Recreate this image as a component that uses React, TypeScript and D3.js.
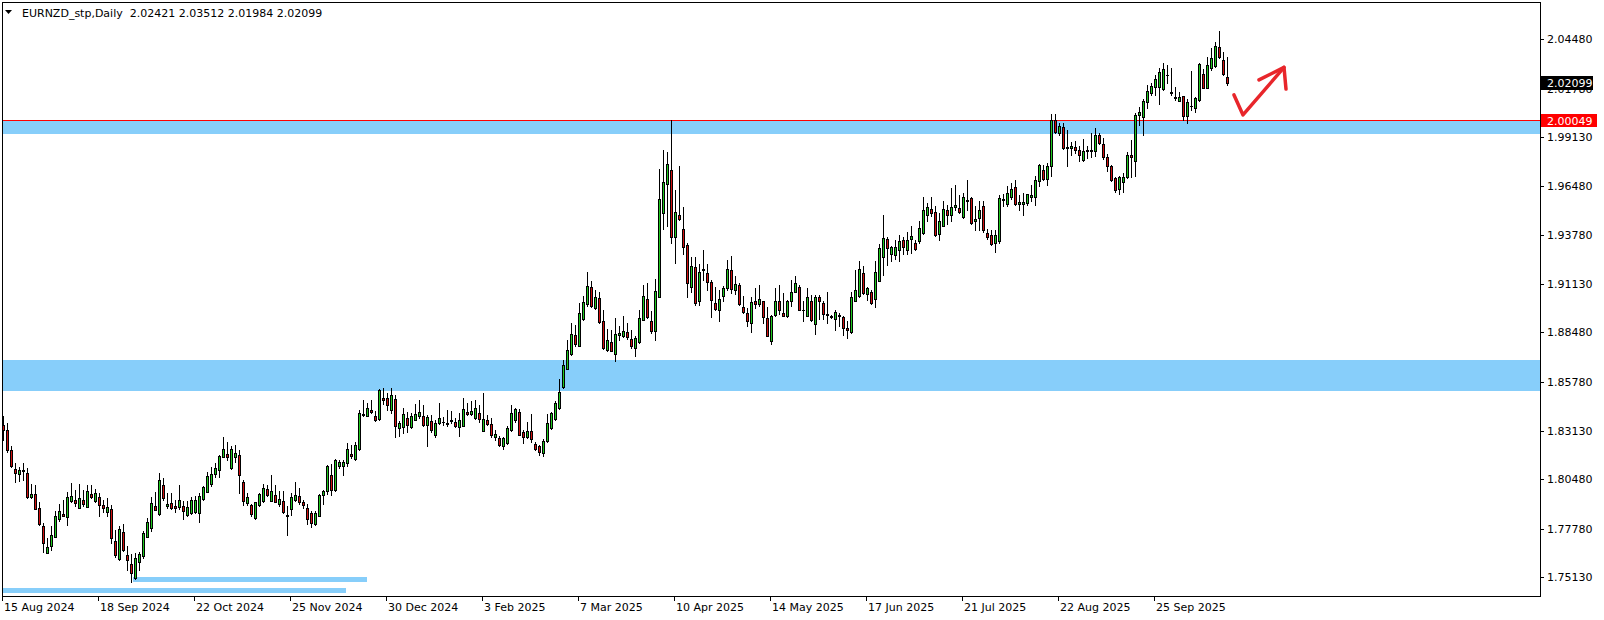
import React from "react";
import * as d3 from "d3";

// ---- Data (EURNZD daily, 15 Aug 2024 .. Oct 2025) ----
const opens = [
1.8345,1.8317,1.8208,1.8103,1.8076,1.8090,1.8081,1.7949,1.7967,1.7890,
1.7794,1.7645,1.7683,1.7732,1.7831,1.7858,1.7841,1.7927,1.7936,1.7890,
1.7936,1.7898,1.7969,1.7927,1.7950,1.7907,1.7870,1.7885,1.7711,1.7611,
1.7761,1.7636,1.7587,1.7509,1.7594,1.7627,1.7731,1.7780,1.7900,1.7856,
1.8016,1.7900,1.7918,1.7900,1.7896,1.7903,1.7852,1.7863,1.7870,1.7863,
1.7940,1.7979,1.8021,1.8078,1.8099,1.8168,1.8185,1.8107,1.8168,1.8179,
1.8032,1.7918,1.7909,1.7834,1.7907,1.7929,1.7996,1.7927,1.7961,1.7914,
1.7930,1.7854,1.7885,1.7932,1.7956,1.7925,1.7890,1.7865,1.7803,1.7849,
1.7960,1.7985,1.8070,1.7987,1.8118,1.8118,1.8136,1.8185,1.8158,1.8212,
1.8403,1.8394,1.8426,1.8394,1.8376,1.8490,1.8490,1.8423,1.8486,1.8327,
1.8332,1.8381,1.8332,1.8369,1.8390,1.8394,1.8341,1.8365,1.8287,1.8354,
1.8358,1.8354,1.8363,1.8358,1.8332,1.8336,1.8414,1.8403,1.8381,1.8409,
1.8309,1.8369,1.8350,1.8278,1.8273,1.8227,1.8245,1.8314,1.8369,1.8414,
1.8305,1.8278,1.8312,1.8242,1.8227,1.8190,1.8254,1.8327,1.8376,1.8436,
1.8549,1.8649,1.8730,1.8836,1.8772,1.8921,1.9001,1.9095,1.8981,1.9036,
1.8912,1.8754,1.8796,1.8730,1.8836,1.8827,1.8852,1.8812,1.8763,1.8794,
1.8914,1.9032,1.8908,1.8854,1.9044,1.9502,1.9656,1.9734,1.9366,1.9489,
1.9413,1.9326,1.9095,1.9204,1.9017,1.9193,1.9171,1.9122,1.9008,1.8968,
1.9049,1.9093,1.9188,1.9080,1.9104,1.8986,1.8953,1.8899,1.9020,1.9002,
1.9019,1.8926,1.8800,1.8944,1.9017,1.8953,1.8935,1.9017,1.9071,1.9095,
1.8971,1.8939,1.9019,1.8893,1.9040,1.9008,1.8948,1.8935,1.8924,1.8944,
1.8931,1.8873,1.8848,1.9022,1.9049,1.9171,1.9057,1.9068,1.9029,1.9126,
1.9262,1.9356,1.9275,1.9273,1.9298,1.9353,1.9298,1.9356,1.9335,1.9344,
1.9389,1.9489,1.9522,1.9504,1.9384,1.9431,1.9513,1.9489,1.9531,1.9525,
1.9476,1.9565,1.9580,1.9455,1.9473,1.9535,1.9389,1.9380,1.9335,1.9349,
1.9578,1.9547,1.9585,1.9640,1.9547,1.9549,1.9553,1.9585,1.9585,1.9673,
1.9734,1.9684,1.9753,2.0007,1.9934,1.9967,1.9858,1.9851,1.9860,1.9843,
1.9789,1.9836,1.9843,1.9840,1.9927,1.9876,1.9803,1.9756,1.9689,1.9629,
1.9669,1.9694,1.9816,1.9785,2.0036,2.0021,2.0107,2.0156,2.0189,2.0189,
2.0174,2.0252,2.0159,2.0134,2.0112,2.0136,2.0030,2.0080,2.0071,2.0116,
2.0258,2.0183,2.0289,2.0303,2.0403,2.0334,2.02421];

const highs = [
1.8394,1.8357,1.8230,1.8136,1.8114,1.8136,1.8109,1.8021,1.8018,1.7921,
1.7809,1.7729,1.7794,1.7876,1.7914,1.7936,1.7979,1.8027,1.7990,1.8023,
1.7990,1.8016,1.8016,1.7996,1.7972,1.7932,1.7947,1.7909,1.7772,1.7791,
1.7805,1.7685,1.7642,1.7645,1.7651,1.7763,1.7836,1.7950,1.7976,1.8081,
1.8054,1.7972,1.7972,1.7936,1.8016,1.7927,1.7927,1.7950,1.7958,1.7972,
1.8009,1.8085,1.8114,1.8136,1.8179,1.8277,1.8248,1.8230,1.8234,1.8205,
1.8045,1.7972,1.7914,1.7925,1.7972,1.8019,1.8016,1.8072,1.8016,1.7981,
1.7981,1.7900,1.7972,1.8034,1.7999,1.7936,1.7912,1.7872,1.7872,1.7967,
1.7990,1.8127,1.8132,1.8158,1.8154,1.8154,1.8245,1.8236,1.8248,1.8423,
1.8477,1.8463,1.8481,1.8417,1.8539,1.8545,1.8517,1.8545,1.8508,1.8363,
1.8436,1.8412,1.8409,1.8460,1.8478,1.8454,1.8396,1.8400,1.8369,1.8463,
1.8385,1.8423,1.8420,1.8381,1.8409,1.8489,1.8463,1.8472,1.8481,1.8452,
1.8518,1.8396,1.8381,1.8318,1.8281,1.8278,1.8336,1.8454,1.8438,1.8430,
1.8318,1.8358,1.8403,1.8249,1.8236,1.8265,1.8401,1.8412,1.8472,1.8594,
1.8699,1.8808,1.8899,1.8890,1.9008,1.9045,1.9175,1.9126,1.9081,1.9066,
1.8972,1.8867,1.8863,1.8926,1.8881,1.8936,1.8899,1.8863,1.8827,1.8972,
1.9108,1.9117,1.8963,1.9139,1.9740,1.9843,1.9834,2.0005,1.9625,1.9756,
1.9531,1.9338,1.9262,1.9258,1.9222,1.9298,1.9220,1.9135,1.9098,1.9080,
1.9102,1.9244,1.9266,1.9157,1.9117,1.9048,1.8980,1.9044,1.9089,1.9104,
1.9019,1.8989,1.8944,1.9089,1.9108,1.9062,1.9026,1.9135,1.9157,1.9108,
1.9017,1.9089,1.9053,1.9053,1.9053,1.9017,1.9071,1.8944,1.8968,1.8953,
1.8939,1.8908,1.9071,1.9186,1.9240,1.9213,1.9098,1.9080,1.9238,1.9331,
1.9489,1.9366,1.9320,1.9353,1.9380,1.9371,1.9398,1.9431,1.9353,1.9458,
1.9589,1.9556,1.9584,1.9535,1.9498,1.9562,1.9542,1.9638,1.9653,1.9598,
1.9607,1.9680,1.9589,1.9535,1.9562,1.9565,1.9413,1.9404,1.9407,1.9598,
1.9604,1.9647,1.9665,1.9680,1.9598,1.9611,1.9604,1.9653,1.9702,1.9767,
1.9762,1.9774,2.0040,2.0040,1.9992,1.9992,1.9952,1.9889,1.9894,1.9862,
1.9902,1.9862,1.9934,1.9961,1.9938,1.9907,1.9822,1.9762,1.9694,1.9702,
1.9716,1.9834,1.9898,2.0043,2.0076,2.0121,2.0198,2.0210,2.0252,2.0289,
2.0319,2.0307,2.0289,2.0185,2.0161,2.0138,2.0120,2.0274,2.0130,2.0319,
2.0283,2.0348,2.0398,2.0430,2.0492,2.0378,2.03512];

const lows = [
1.8263,1.8194,1.8114,1.8030,1.8038,1.8045,1.7943,1.7943,1.7885,1.7800,
1.7649,1.7645,1.7663,1.7732,1.7818,1.7845,1.7796,1.7921,1.7900,1.7890,
1.7900,1.7896,1.7943,1.7921,1.7845,1.7867,1.7845,1.7701,1.7623,1.7609,
1.7656,1.7554,1.7487,1.7505,1.7551,1.7618,1.7731,1.7763,1.7878,1.7852,
1.7936,1.7890,1.7885,1.7870,1.7885,1.7831,1.7845,1.7860,1.7863,1.7812,
1.7936,1.7976,1.8012,1.8059,1.8059,1.8168,1.8154,1.8103,1.8139,1.7972,
1.7907,1.7907,1.7845,1.7831,1.7903,1.7925,1.7958,1.7927,1.7921,1.7903,
1.7863,1.7741,1.7852,1.7927,1.7914,1.7890,1.7805,1.7787,1.7800,1.7845,
1.7914,1.7969,1.7963,1.7981,1.8110,1.8072,1.8121,1.8163,1.8154,1.8208,
1.8394,1.8390,1.8408,1.8363,1.8372,1.8459,1.8426,1.8408,1.8276,1.8281,
1.8300,1.8303,1.8327,1.8369,1.8381,1.8336,1.8227,1.8303,1.8276,1.8351,
1.8345,1.8340,1.8354,1.8332,1.8285,1.8336,1.8400,1.8398,1.8376,1.8358,
1.8309,1.8345,1.8280,1.8263,1.8227,1.8213,1.8241,1.8309,1.8358,1.8287,
1.8245,1.8273,1.8251,1.8209,1.8180,1.8175,1.8249,1.8321,1.8372,1.8430,
1.8545,1.8649,1.8727,1.8776,1.8772,1.8917,1.8994,1.8986,1.8976,1.8899,
1.8758,1.8745,1.8745,1.8694,1.8808,1.8823,1.8814,1.8763,1.8721,1.8790,
1.8914,1.8926,1.8845,1.8805,1.9040,1.9411,1.9426,1.9338,1.9229,1.9462,
1.9277,1.9040,1.9071,1.8995,1.8999,1.9135,1.9077,1.8931,1.8968,1.8908,
1.9017,1.9080,1.9062,1.9058,1.8999,1.8953,1.8884,1.8848,1.8980,1.8993,
1.8899,1.8826,1.8785,1.8939,1.8949,1.8935,1.8931,1.8993,1.9066,1.8968,
1.8908,1.8935,1.8913,1.8839,1.8920,1.8920,1.8899,1.8926,1.8862,1.8884,
1.8835,1.8817,1.8844,1.9017,1.9044,1.9058,1.9026,1.9004,1.8989,1.9126,
1.9162,1.9217,1.9240,1.9247,1.9240,1.9275,1.9277,1.9280,1.9298,1.9338,
1.9386,1.9458,1.9485,1.9375,1.9353,1.9426,1.9440,1.9458,1.9516,1.9498,
1.9471,1.9516,1.9440,1.9404,1.9407,1.9398,1.9356,1.9326,1.9284,1.9338,
1.9535,1.9538,1.9576,1.9544,1.9516,1.9489,1.9544,1.9567,1.9544,1.9647,
1.9680,1.9653,1.9702,1.9938,1.9925,1.9847,1.9756,1.9816,1.9825,1.9785,
1.9785,1.9798,1.9807,1.9811,1.9876,1.9792,1.9731,1.9676,1.9616,1.9604,
1.9616,1.9689,1.9698,1.9702,1.9980,1.9925,2.0071,2.0143,2.0143,2.0092,
2.0170,2.0207,2.0143,2.0116,2.0112,2.0007,1.9992,2.0061,2.0052,2.0112,
2.0180,2.0180,2.0279,2.0298,2.0343,2.0252,2.01984];

const closes = [
1.8317,1.8208,1.8121,1.8081,1.8099,1.8099,1.7949,1.7967,1.7885,1.7805,
1.7698,1.7678,1.7743,1.7849,1.7876,1.7849,1.7950,1.7956,1.7916,1.7945,
1.7912,1.7985,1.7949,1.7972,1.7907,1.7889,1.7898,1.7725,1.7632,1.7778,
1.7660,1.7605,1.7536,1.7618,1.7638,1.7754,1.7814,1.7918,1.7878,1.8045,
1.7945,1.7912,1.7892,1.7889,1.7932,1.7874,1.7896,1.7936,1.7936,1.7958,
1.8003,1.8067,1.8076,1.8109,1.8176,1.8212,1.8168,1.8214,1.8192,1.8069,
1.7929,1.7950,1.7858,1.7923,1.7969,1.7999,1.7961,1.7985,1.7921,1.7940,
1.7870,1.7845,1.7950,1.7961,1.7921,1.7905,1.7831,1.7807,1.7863,1.7960,
1.7983,1.8121,1.7990,1.8154,1.8141,1.8143,1.8212,1.8172,1.8234,1.8410,
1.8397,1.8436,1.8412,1.8368,1.8535,1.8481,1.8454,1.8508,1.8339,1.8354,
1.8405,1.8341,1.8394,1.8401,1.8414,1.8341,1.8387,1.8314,1.8354,1.8381,
1.8360,1.8349,1.8370,1.8340,1.8369,1.8430,1.8403,1.8420,1.8434,1.8376,
1.8376,1.8350,1.8287,1.8296,1.8233,1.8273,1.8327,1.8409,1.8430,1.8287,
1.8278,1.8312,1.8269,1.8214,1.8195,1.8256,1.8354,1.8409,1.8463,1.8523,
1.8670,1.8754,1.8839,1.8785,1.8954,1.9014,1.9103,1.8990,1.9041,1.8903,
1.8761,1.8808,1.8745,1.8839,1.8845,1.8856,1.8823,1.8772,1.8819,1.8926,
1.9048,1.8930,1.8854,1.9074,1.9576,1.9669,1.9765,1.9371,1.9504,1.9466,
1.9313,1.9120,1.9211,1.9008,1.9177,1.9186,1.9122,1.9026,1.8977,1.9029,
1.9089,1.9193,1.9086,1.9113,1.9002,1.8959,1.8913,1.9013,1.9004,1.9029,
1.8931,1.8826,1.8935,1.9022,1.8971,1.8935,1.9019,1.9071,1.9120,1.8971,
1.8968,1.9040,1.8917,1.9040,1.9022,1.8950,1.8942,1.8931,1.8960,1.8935,
1.8871,1.8862,1.9040,1.9080,1.9195,1.9062,1.9089,1.9008,1.9177,1.9309,
1.9362,1.9311,1.9313,1.9316,1.9344,1.9316,1.9353,1.9375,1.9302,1.9416,
1.9513,1.9531,1.9498,1.9377,1.9458,1.9520,1.9489,1.9531,1.9542,1.9504,
1.9589,1.9569,1.9444,1.9467,1.9515,1.9404,1.9371,1.9329,1.9380,1.9580,
1.9571,1.9607,1.9631,1.9549,1.9558,1.9560,1.9604,1.9598,1.9680,1.9762,
1.9685,1.9756,2.0007,1.9943,1.9974,1.9856,1.9854,1.9862,1.9843,1.9816,
1.9840,1.9843,1.9836,1.9925,1.9880,1.9803,1.9753,1.9680,1.9622,1.9694,
1.9694,1.9816,1.9807,2.0034,2.0051,2.0110,2.0165,2.0194,2.0229,2.0267,
2.0283,2.0249,2.0156,2.0129,2.0130,2.0030,2.0103,2.0085,2.0125,2.0312,
2.0183,2.0307,2.0343,2.0410,2.0348,2.0258,2.02099];

const yTickValues = [2.0448, 2.0178, 1.9913, 1.9648, 1.9378, 1.9113, 1.8848, 1.8578, 1.8313, 1.8048, 1.7778, 1.7513];
const xTickIndex = [0, 24, 48, 72, 96, 120, 144, 168, 192, 216, 240, 264, 288];
const xTickLabels = [
  "15 Aug 2024", "18 Sep 2024", "22 Oct 2024", "25 Nov 2024", "30 Dec 2024", "3 Feb 2025",
  "7 Mar 2025", "10 Apr 2025", "14 May 2025", "17 Jun 2025", "21 Jul 2025", "22 Aug 2025", "25 Sep 2025",
];

// Rectangles (zones) in [index range, price range]
const zoneIdxFrom = [-2, -2, 32.5, -0.25];
const zoneIdxTo = [400, 400, 91, 85.75];
const zonePriceTop = [2.0005, 1.8698, 1.7514, 1.7454];
const zonePriceBottom = [1.9932, 1.8531, 1.7487, 1.7427];

const levelPrice = 2.00049;
const lastPrice = 2.02099;
const titleText = "EURNZD_stp,Daily  2.02421 2.03512 2.01984 2.02099";

// hand-drawn arrow (index, price)
const arrowIdx = [307.75, 310, 320.25];
const arrowPrice = [2.0143, 2.0034, 2.0293];
const barbIdx = [314, 320.25, 320.75];
const barbPrice = [2.0225, 2.0293, 2.0175];

const W = 1604;
const H = 620;
const PL = 2, PT = 2, PR = 1540, PB = 596;

const BULL = "#1ec81e";
const BEAR = "#d01010";
const ZONE = "#87cefa";
const FONT = "'DejaVu Sans', Verdana, sans-serif";

export default function App() {
  const N = closes.length;
  const x = d3.scaleLinear().domain([0, N - 1]).range([3, 3 + 4 * (N - 1)]);
  const y = d3.scaleLinear().domain([1.7513, 2.0448]).range([577.3, 39]);
  const fmt = d3.format(".5f");

  const candles = d3.range(N).map((i) => {
    const o = opens[i], h = highs[i], l = lows[i], c = closes[i];
    const cx = Math.round(x(i));
    const yH = Math.round(y(h));
    const yL = Math.round(y(l));
    const yT = Math.round(y(Math.max(o, c)));
    const yB = Math.round(y(Math.min(o, c)));
    const bull = c >= o;
    return (
      <g key={i}>
        <rect x={cx} y={yH} width={1} height={yL - yH + 1} fill="#000" />
        <rect x={cx - 1} y={yT} width={3} height={yB - yT + 1} fill="#000" />
        {yB - yT >= 2 && (
          <rect x={cx} y={yT + 1} width={1} height={yB - yT - 1} fill={bull ? BULL : BEAR} />
        )}
      </g>
    );
  });

  const zones = zonePriceTop.map((pt, k) => {
    const x0 = Math.max(PL + 1, x(zoneIdxFrom[k]));
    const x1 = Math.min(PR, x(zoneIdxTo[k]));
    const y0 = Math.round(y(pt));
    const y1 = Math.round(y(zonePriceBottom[k]));
    return <rect key={k} x={x0} y={y0} width={x1 - x0} height={y1 - y0} fill={ZONE} />;
  });

  const line = d3.line<number>().x((d, k) => x(arrowIdx[k])).y((d, k) => y(arrowPrice[k]));
  const barb = d3.line<number>().x((d, k) => x(barbIdx[k])).y((d, k) => y(barbPrice[k]));

  const levelY = Math.round(y(levelPrice)) + 0.5;
  const lastY = y(lastPrice);

  return (
    <svg
      width={W}
      height={H}
      style={{ position: "absolute", left: 0, top: 0, background: "#fff" }}
      fontFamily={FONT}
    >
      <rect x={0} y={0} width={W} height={H} fill="#fff" />
      <g shapeRendering="crispEdges">
        {zones}
        <line x1={PL} x2={PR} y1={levelY} y2={levelY} stroke="#ff0000" strokeWidth={1} />
        {candles}
        {/* frame */}
        <rect x={PL + 0.5} y={PT + 0.5} width={PR - PL} height={PB - PT} fill="none" stroke="#000" strokeWidth={1} />
        {/* y ticks */}
        {yTickValues.map((v, k) => (
          <line key={k} x1={PR} x2={PR + 4} y1={Math.round(y(v)) + 0.5} y2={Math.round(y(v)) + 0.5} stroke="#000" />
        ))}
        {xTickIndex.map((idx, k) => (
          <line key={k} x1={Math.round(x(idx)) - 0.5} x2={Math.round(x(idx)) - 0.5} y1={PB} y2={PB + 5} stroke="#000" />
        ))}
      </g>
      <path
        d={line(arrowIdx) || ""}
        fill="none"
        stroke="#e8262b"
        strokeWidth={3.5}
        strokeLinecap="round"
        strokeLinejoin="round"
      />
      <path
        d={barb(barbIdx) || ""}
        fill="none"
        stroke="#e8262b"
        strokeWidth={3.5}
        strokeLinecap="round"
        strokeLinejoin="round"
      />
      {/* y tick labels */}
      {yTickValues.map((v, k) => (
        <text key={k} x={1547} y={y(v) + 4} fontSize={11} fill="#000">
          {fmt(v)}
        </text>
      ))}
      {/* price labels */}
      <rect x={1541} y={Math.round(lastY) - 7} width={52} height={14} fill="#000" />
      <text x={1547} y={lastY + 4} fontSize={11} fill="#fff">
        {fmt(lastPrice)}
      </text>
      <rect x={1541} y={Math.round(y(levelPrice)) - 6} width={56} height={13} fill="#ff0000" />
      <text x={1547} y={y(levelPrice) + 4.5} fontSize={11} fill="#fff">
        {fmt(levelPrice)}
      </text>
      {/* x labels */}
      {xTickIndex.map((idx, k) => (
        <text key={k} x={Math.round(x(idx)) + 1} y={611} fontSize={11} fill="#000">
          {xTickLabels[k]}
        </text>
      ))}
      {/* title */}
      <path d="M5,10 L12,10 L8.5,14 Z" fill="#000" />
      <text x={22} y={17} fontSize={11} fill="#000" style={{ whiteSpace: "pre" }}>
        {titleText}
      </text>
    </svg>
  );
}
